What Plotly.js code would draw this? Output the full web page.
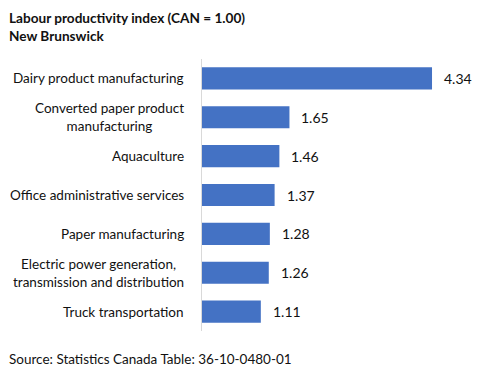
<!DOCTYPE html>
<html>
<head>
<meta charset="utf-8">
<script src="https://cdn.plot.ly/plotly-3.0.1.min.js"></script>
<style>html,body{margin:0;padding:0;background:#fff;}#chart{width:477px;height:374px;}</style>
</head>
<body>
<div id="chart"></div>
<script>
const categories = [
  "Dairy product manufacturing",
  "Converted paper product<br>manufacturing",
  "Aquaculture",
  "Office administrative services",
  "Paper manufacturing",
  "Electric power generation,<br>transmission and distribution",
  "Truck transportation"
];
const values = [4.34, 1.65, 1.46, 1.37, 1.28, 1.26, 1.11];
const valueLabels = ["4.34", "1.65", "1.46", "1.37", "1.28", "1.26", "1.11"];
const titleText = "<b>Labour productivity index (CAN = 1.00)</b><br><b>New Brunswick</b>";
const sourceText = "Source: Statistics Canada Table: 36-10-0480-01";

const FONT = "Lato, 'Open Sans', sans-serif";
const annotations = [];
categories.forEach((c, i) => {
  annotations.push({
    xref: "paper", yref: "y", x: 0, y: c, text: c,
    xanchor: "right", yanchor: "middle", align: "center",
    xshift: -16, showarrow: false,
    font: {family: FONT, size: 13.5, color: "#111"}
  });
  annotations.push({
    xref: "x", yref: "y", x: values[i], y: c, text: valueLabels[i],
    xanchor: "left", yanchor: "middle", xshift: 10, showarrow: false,
    font: {family: FONT, size: 14, color: "#111"}
  });
});
annotations.push({
  xref: "paper", yref: "paper", x: 0, y: 1, xanchor: "left", yanchor: "bottom",
  xshift: -195, yshift: 13, align: "left", showarrow: false, text: titleText,
  font: {family: FONT, size: 13.6, color: "#111"}
});
annotations.push({
  xref: "paper", yref: "paper", x: 0, y: 0, xanchor: "left", yanchor: "top",
  xshift: -195, yshift: -18, align: "left", showarrow: false, text: sourceText,
  font: {family: FONT, size: 13.5, color: "#111"}
});

Plotly.newPlot("chart", [{
  type: "bar", orientation: "h",
  x: values, y: categories,
  marker: {color: "#4472C4"},
  hoverinfo: "none"
}], {
  width: 477, height: 374,
  margin: {l: 202, r: 10, t: 58.5, b: 43},
  paper_bgcolor: "#fff", plot_bgcolor: "#fff",
  bargap: 0.43,
  showlegend: false,
  xaxis: {range: [0, 5], showgrid: false, zeroline: false, showticklabels: false, showline: false, fixedrange: true},
  yaxis: {autorange: "reversed", showticklabels: false, showgrid: false, zeroline: false,
          showline: true, linecolor: "#d9d9d9", linewidth: 1, ticks: "", fixedrange: true},
  annotations: annotations
}, {displayModeBar: false, staticPlot: true});
</script>
</body>
</html>
